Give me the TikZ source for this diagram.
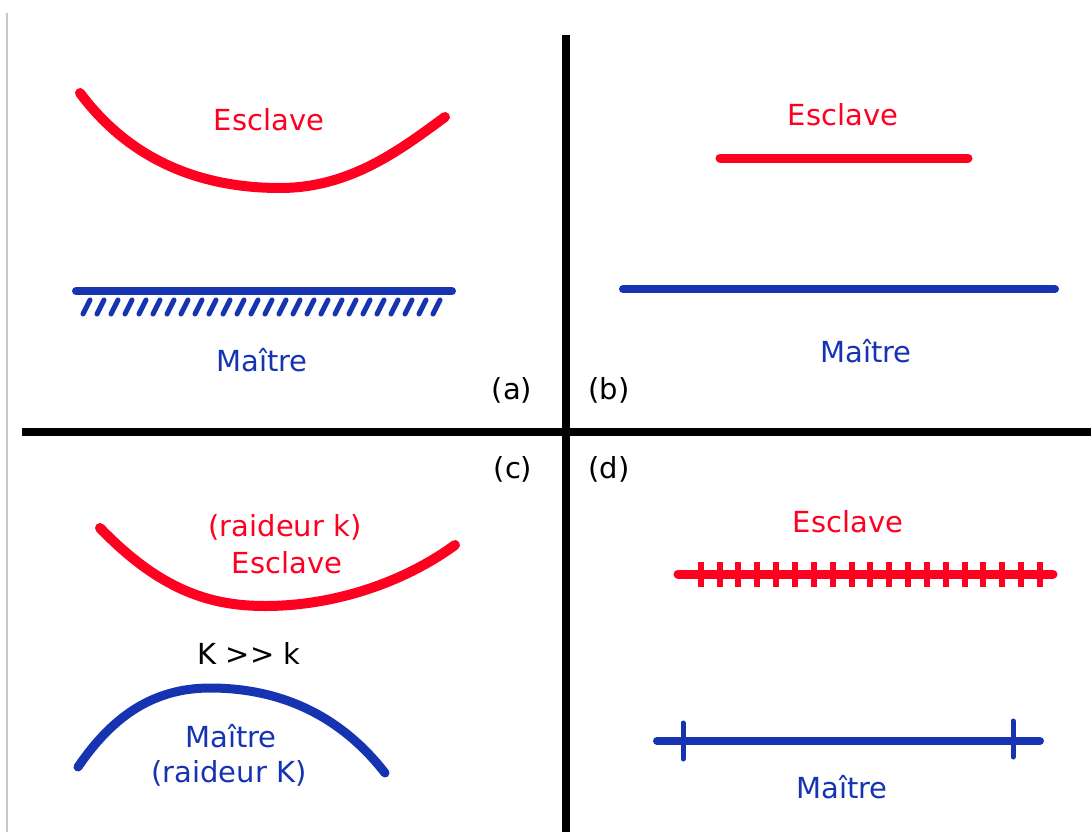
\documentclass[tikz,border=0pt]{standalone}
\usepackage{fontspec}
\setmainfont{DejaVu Sans}
\definecolor{slavered}{RGB}{255,0,32}
\definecolor{masterblue}{RGB}{22,52,178}
\definecolor{frame}{RGB}{200,200,200}
\usepackage{tikz}
\usetikzlibrary{positioning}

\begin{document}
\begin{tikzpicture}[
    x=1pt, y=-1pt,
    label/.style={font=\fontsize{29}{34}\selectfont, align=center, inner sep=0pt},
    slave/.style={draw=slavered, line width=10pt, line cap=round, line join=round},
    master/.style={draw=masterblue, line width=9pt, line cap=round, line join=round},
    divider/.style={draw=black, line width=8pt},
    hatch/.style={draw=masterblue, line width=5pt, line cap=round}
]
  \useasboundingbox[fill=white] (0,0) rectangle (1091,832);
  \draw[frame, line width=1.5pt] (7,13) -- (7,832);

  % Quadrant dividers
  \draw[divider] (566,35) -- (566,832);
  \draw[divider] (22,432) -- (1091,432);

  \node[label] (tagA) at (512,390) {(a)};
  \node[label] (tagB) at (609,390) {(b)};
  \node[label] (tagC) at (513,469) {(c)};
  \node[label] (tagD) at (609,469) {(d)};

  % (a) curved slave over rigid master
  \draw[slave] (80,93) .. controls (130,160) and (200,188) .. (280,188)
    .. controls (350,188) and (400,150) .. (445,117);
  \node[label, slavered] (slaveA) at (269,120) {Esclave};
  \draw[master, line width=8pt] (76,291) -- (452,291);
  \foreach \i in {0,...,25}
    \draw[hatch] ({83+14*\i},314) -- ({90+14*\i},300);
  \node[label, masterblue] (masterA) at (262,360) {Maître};

  % (b) straight slave and master
  \node[label, slavered] (slaveB) at (843,115) {Esclave};
  \draw[slave, line width=9pt] (720,158) -- (968,158);
  \draw[master, line width=8pt] (623,289) -- (1055,289);
  \node[label, masterblue] (masterB) at (866,351) {Maître};

  % (c) two deformable bodies
  \node[label, slavered] (stiffC) at (285,527) {(raideur k)};
  \node[label, slavered] (slaveC) at (287,563) {Esclave};
  \draw[slave] (100,528) .. controls (160,590) and (210,606) .. (265,606)
    .. controls (330,606) and (400,585) .. (455,545);
  \node[label] (ratio) at (249,653) {K {>}{>} k};
  \draw[master] (78,767) .. controls (110,720) and (150,688) .. (210,688)
    .. controls (280,688) and (340,715) .. (385,773);
  \node[label, masterblue] (masterC) at (231,736) {Maître};
  \node[label, masterblue] (stiffCm) at (229,773) {(raideur K)};

  % (d) discretised slave and master
  \node[label, slavered] (slaveD) at (848,522) {Esclave};
  \draw[slave, line width=9pt] (678,574) -- (1053,574);
  \foreach \i in {0,...,18}
    \draw[slavered, line width=6pt] ({700.7+18.85*\i},562) -- ({700.7+18.85*\i},587);
  \draw[master, line width=8pt] (657,741) -- (1040,741);
  \draw[masterblue, line width=5pt, line cap=round] (683,723) -- (683,759);
  \draw[masterblue, line width=5pt, line cap=round] (1013,721) -- (1013,757);
  \node[label, masterblue] (masterD) at (842,787) {Maître};
\end{tikzpicture}
\end{document}
